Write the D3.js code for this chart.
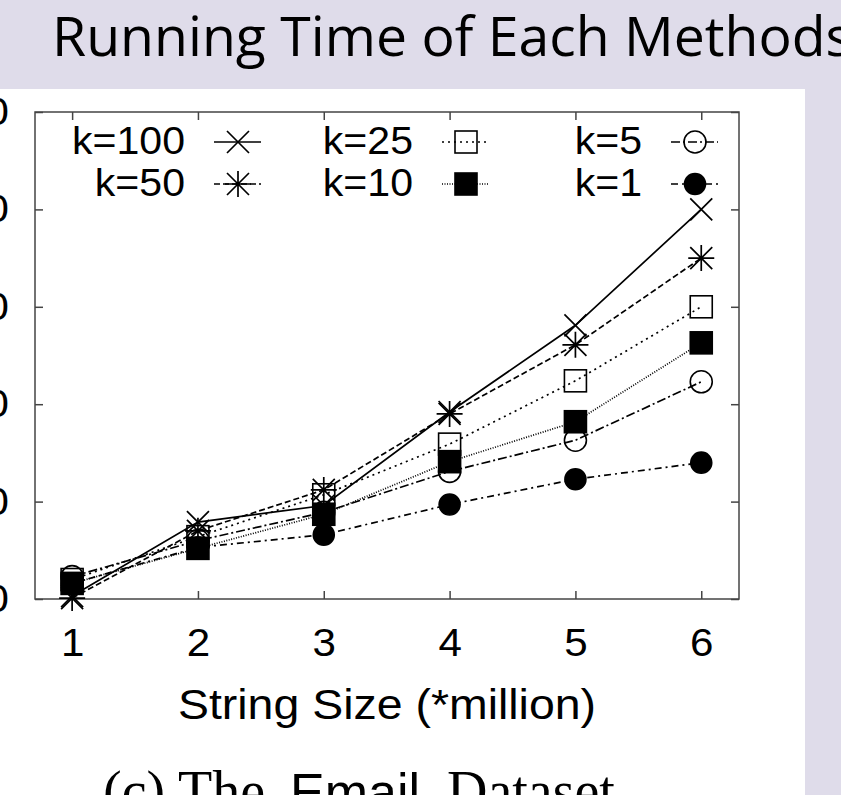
<!DOCTYPE html>
<html>
<head>
<meta charset="utf-8">
<script src="https://cdn.jsdelivr.net/npm/d3@7"></script>
<style>
  html, body { margin: 0; padding: 0; background: #dfdcea; }
  svg { display: block; }
</style>
</head>
<body>
<script>
// valeurs (temps, unite inconnue)
const sizes = [1, 2, 3, 4, 5, 6]
const yTickValues = [0, 10, 20, 30, 40, 50]
const names = ['k=100', 'k=50', 'k=25', 'k=10', 'k=5', 'k=1']
const k100 = [0.3, 7.9, 9.6, 19.2, 28.1, 40.0]
const k50 = [0.1, 7.0, 11.2, 19.0, 26.1, 35.0]
const k25 = [2.0, 6.4, 10.7, 15.9, 22.4, 30.0]
const k10 = [1.6, 5.2, 8.7, 14.1, 18.2, 26.3]
const k5 = [2.3, 6.0, 8.9, 13.1, 16.3, 22.3]
const k1 = [1.6, 5.3, 6.6, 9.7, 12.3, 14.0]
const series = [k100, k50, k25, k10, k5, k1]

// style de chaque courbe (gnuplot noir et blanc)
const markers = ['x', 'star', 'square', 'fsquare', 'circle', 'fcircle']
const dashes = [null, '6,3', '2,4', '1,1.5', '9,3,2,3', '7,4,2,4']

const W = 841
const H = 795
const svg = d3.select('body').append('svg').attr('width', W).attr('height', H)

// fond de la diapo + panneau blanc
svg.append('rect').attr('width', W).attr('height', H).attr('fill', '#dfdcea')
svg.append('rect').attr('x', 0).attr('y', 89).attr('width', 805).attr('height', H - 89).attr('fill', '#fff')

svg.append('text')
  .attr('x', 52).attr('y', 56)
  .attr('font-family', '"Open Sans", sans-serif')
  .attr('font-size', 54)
  .attr('textLength', 800)
  .attr('lengthAdjust', 'spacingAndGlyphs')
  .attr('fill', '#000')
  .text('Running Time of Each Methods')

/*
* Echelles
*/
const x = d3.scaleLinear().domain([0.705, 6.3]).range([35, 739])
const y = d3.scaleLinear().domain([0, 50]).range([599, 112])

const SANS = '"Liberation Sans", Arial, sans-serif'
const SERIF = '"Liberation Serif", "Times New Roman", serif'

// l'image est un peu etiree en largeur
const stretch = (sel, f) => sel.each(function () {
  const len = this.getComputedTextLength()
  d3.select(this).attr('textLength', len * f).attr('lengthAdjust', 'spacingAndGlyphs')
})

const styleAxis = g => {
  g.select('.domain').remove()
  g.selectAll('.tick line').attr('stroke', '#444').attr('stroke-width', 1.5)
  g.selectAll('.tick text').attr('fill', '#000').attr('font-family', SANS).attr('font-size', 39)
}

const bottom = svg.append('g').attr('transform', 'translate(0,599)')
  .call(d3.axisBottom(x).tickValues(sizes).tickSize(-8).tickPadding(29).tickFormat(d3.format('d')))
  .call(styleAxis)
stretch(bottom.selectAll('.tick text'), 1.08)

svg.append('g').attr('transform', 'translate(0,112)')
  .call(d3.axisTop(x).tickValues(sizes).tickSize(-8).tickFormat(''))
  .call(styleAxis)

const left = svg.append('g').attr('transform', 'translate(35,0)')
  .call(d3.axisLeft(y).tickValues(yTickValues).tickSize(-8).tickPadding(26))
  .call(styleAxis)
stretch(left.selectAll('.tick text'), 1.08)

svg.append('g').attr('transform', 'translate(739,0)')
  .call(d3.axisRight(y).tickValues(yTickValues).tickSize(-8).tickFormat(''))
  .call(styleAxis)

// cadre
svg.append('rect')
  .attr('x', x.range()[0]).attr('y', y.range()[1])
  .attr('width', x.range()[1] - x.range()[0])
  .attr('height', y.range()[0] - y.range()[1])
  .attr('fill', 'none').attr('stroke', '#444').attr('stroke-width', 1.5)

/*
* Marqueurs
*/
const drawMarker = (g, type) => {
  const s = 11
  if (type === 'x' || type === 'star') {
    let d = `M${-s},${-s}L${s},${s}M${-s},${s}L${s},${-s}`
    if (type === 'star') d += `M0,${-s - 2}L0,${s + 2}M${-s - 2},0L${s + 2},0`
    g.append('path').attr('d', d).attr('stroke', '#000').attr('stroke-width', 1.7).attr('fill', 'none')
  } else if (type === 'square' || type === 'fsquare') {
    g.append('rect').attr('x', -11).attr('y', -11).attr('width', 22).attr('height', 22)
      .attr('fill', type === 'fsquare' ? '#000' : 'none')
      .attr('stroke', '#000').attr('stroke-width', 1.6)
  } else {
    g.append('circle').attr('r', type === 'fcircle' ? 10.5 : 11)
      .attr('fill', type === 'fcircle' ? '#000' : 'none')
      .attr('stroke', '#000').attr('stroke-width', 1.6)
  }
}

const line = d3.line().x((d, i) => x(sizes[i])).y(d => y(d))

const plot = svg.append('g')
series.forEach((vals, s) => {
  plot.append('path')
    .attr('d', line(vals))
    .attr('fill', 'none')
    .attr('stroke', '#000')
    .attr('stroke-width', 1.7)
    .attr('stroke-dasharray', dashes[s])
})
series.forEach((vals, s) => {
  plot.selectAll(null)
    .data(vals)
    .enter()
    .append('g')
    .attr('transform', (d, i) => `translate(${x(sizes[i])},${y(d)})`)
    .each(function () { drawMarker(d3.select(this), markers[s]) })
})

/*
* Legende (3 colonnes, 2 lignes)
*/
const legendCols = [185, 413, 642]
const legendRows = [154, 196]
names.forEach((name, i) => {
  const cx = legendCols[Math.floor(i / 2)]
  const by = legendRows[i % 2]
  const g = svg.append('g')
  const t = g.append('text')
    .attr('x', cx).attr('y', by)
    .attr('text-anchor', 'end')
    .attr('font-family', SANS).attr('font-size', 38)
    .attr('fill', '#000')
    .text(name)
  stretch(t, 1.08)
  g.append('line')
    .attr('x1', cx + 29).attr('x2', cx + 76)
    .attr('y1', by - 12).attr('y2', by - 12)
    .attr('stroke', '#000').attr('stroke-width', 1.6)
    .attr('stroke-dasharray', dashes[i])
  const m = g.append('g').attr('transform', `translate(${cx + 53},${by - 12})`)
  drawMarker(m, markers[i])
})

// titre de l'axe x
const xl = svg.append('text')
  .attr('x', (x.range()[0] + x.range()[1]) / 2).attr('y', 719)
  .attr('text-anchor', 'middle')
  .attr('font-family', SANS).attr('font-size', 43)
  .attr('fill', '#000')
  .text('String Size (*million)')
stretch(xl, 1.08)

// legende de la figure, coupee en bas
const cap = svg.append('text').attr('y', 810).attr('fill', '#000')
cap.append('tspan').attr('x', 103).attr('font-family', SERIF).attr('font-size', 56).text('(c)')
cap.append('tspan').attr('x', 178).attr('font-family', SERIF).attr('font-size', 56).text('The')
cap.append('tspan').attr('x', 290).attr('font-family', SANS).attr('font-size', 52).text('Email')
cap.append('tspan').attr('x', 447).attr('font-family', SERIF).attr('font-size', 56).text('Dataset')
</script>
</body>
</html>
